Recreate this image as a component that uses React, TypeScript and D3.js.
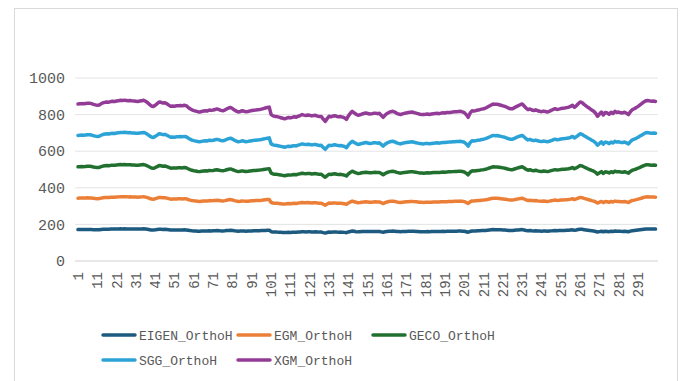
import React from "react";
import * as d3 from "d3";

// Orthometric heights (per point, metres); the five geoid
// models agree within the chart's resolution, each plotted as a stacked line.
const pointHeights: number[] = [
  171.6, 171.8, 172.0, 171.9, 172.2, 172.5, 172.4, 172.0, 171.2, 170.6,
  170.2, 170.5, 171.8, 172.9, 173.4, 173.8, 173.6, 174.2, 174.5, 174.3,
  174.8, 175.2, 175.6, 175.4, 175.8, 175.5, 175.2, 175.4, 175.0, 174.8,
  174.6, 174.4, 174.8, 175.2, 175.6, 174.6, 173.0, 171.2, 169.4, 168.8,
  170.2, 172.0, 173.8, 173.4, 172.6, 173.0, 171.8, 170.4, 169.0, 169.4,
  169.2, 169.6, 169.8, 170.0, 169.6, 170.2, 169.8, 168.0, 166.4, 165.2,
  164.4, 163.8, 163.2, 162.8, 163.4, 163.9, 164.2, 164.0, 165.0, 164.6,
  165.0, 165.6, 166.2, 165.4, 164.6, 164.2, 165.0, 166.2, 167.2, 167.8,
  166.6, 165.0, 163.8, 162.8, 163.4, 164.2, 163.6, 163.0, 163.4, 164.0,
  164.4, 164.8, 165.0, 165.3, 165.6, 166.0, 166.6, 167.2, 167.8, 168.2,
  160.0, 158.6, 158.0, 157.8, 157.2, 156.6, 156.0, 155.4, 156.2, 156.8,
  156.4, 157.0, 157.6, 157.2, 158.2, 159.0, 160.0, 159.4, 159.0, 159.6,
  159.2, 158.6, 159.0, 159.2, 158.4, 157.8, 158.0, 155.0, 152.6, 155.6,
  158.2, 157.6, 158.4, 158.8, 158.0, 157.6, 157.8, 157.2, 156.4, 154.8,
  158.6, 161.4, 163.6, 162.0, 160.4, 159.2, 159.8, 160.6, 161.2, 161.8,
  161.2, 160.6, 160.8, 161.4, 161.6, 161.0, 161.4, 159.2, 157.0, 159.4,
  161.2, 162.4, 163.2, 163.6, 162.8, 161.4, 160.6, 160.0, 160.8, 161.4,
  161.8, 162.2, 162.6, 162.8, 162.2, 161.6, 161.0, 160.4, 160.2, 160.0,
  160.4, 160.6, 160.2, 160.6, 161.0, 161.2, 161.4, 161.0, 161.6, 162.0,
  161.8, 162.2, 162.4, 162.4, 162.8, 163.0, 163.2, 163.4, 163.6, 163.0,
  162.2, 160.0, 157.0, 161.6, 164.2, 163.8, 164.4, 165.0, 165.4, 166.0,
  166.4, 167.2, 168.2, 169.4, 170.6, 171.6, 171.2, 171.4, 170.8, 170.2,
  169.6, 169.0, 168.0, 167.0, 166.4, 166.4, 167.6, 168.8, 169.8, 170.8,
  171.6, 169.4, 167.0, 165.4, 166.2, 165.0, 164.4, 165.2, 164.2, 163.6,
  163.2, 163.8, 163.4, 162.8, 163.6, 164.6, 165.6, 166.4, 165.6, 166.0,
  166.6, 167.0, 167.2, 167.6, 168.0, 169.0, 170.2, 168.0, 169.6, 171.8,
  173.8, 173.0, 171.2, 169.6, 168.0, 166.6, 165.0, 163.6, 161.4, 158.2,
  160.6, 162.8, 159.6, 162.4, 161.8, 160.4, 162.6, 161.2, 163.6, 162.4,
  162.8, 162.0, 161.8, 162.6, 161.4, 160.0, 163.2, 165.4, 166.4, 167.6,
  169.0, 170.6, 172.2, 173.8, 175.2, 175.4, 175.0, 174.6, 174.8, 174.4,
];

const categories: string[] = pointHeights.map((_, i) => String(i + 1));
const seriesNames = ["EIGEN_OrthoH", "EGM_OrthoH", "GECO_OrthoH", "SGG_OrthoH", "XGM_OrthoH"];
const seriesColors = ["#1d5a80", "#ec7f37", "#22702f", "#2ba3d6", "#933c97"];
const yTicks = [0, 200, 400, 600, 800, 1000];
const xTickLabels = categories.filter((_, i) => i % 10 === 0);

const legendPos = [
  { x: 103, y: 335 },
  { x: 238, y: 335 },
  { x: 373, y: 335 },
  { x: 103, y: 360 },
  { x: 238, y: 360 },
];

export default function App() {
  const W = 685, H = 381;
  const gridLeft = 75, gridRight = 658;
  const x = d3.scalePoint<string>().domain(categories).range([78, 655.5]);
  const y = d3.scaleLinear().domain([0, 1000]).range([261, 78]);

  const rows = categories.map((c, i) => {
    const r: any = { cat: c };
    seriesNames.forEach((n) => (r[n] = pointHeights[i]));
    return r;
  });
  const stacked = d3.stack<any>().keys(seriesNames)(rows);
  const line = d3
    .line<any>()
    .x((d) => x(d.data.cat)!)
    .y((d) => y(d[1]));

  const mono = "'Liberation Mono', 'DejaVu Sans Mono', monospace";

  return (
    <svg width={W} height={H} style={{ position: "absolute", left: 0, top: 0, background: "#fff" }}>
      <rect x={14.5} y={8.5} width={663} height={400} fill="#fff" stroke="#d9d9d9" strokeWidth={1} />
      {yTicks.map((t) => (
        <g key={t}>
          <line x1={gridLeft} x2={gridRight} y1={y(t)} y2={y(t)} stroke={t === 0 ? "#d0d0d0" : "#e4e4e4"} strokeWidth={1} />
          <text x={65} y={y(t)} dy="0.35em" textAnchor="end" fontFamily={mono} fontSize={15} fill="#595959">
            {t}
          </text>
        </g>
      ))}
      {xTickLabels.map((c) => (
        <text
          key={c}
          transform={`translate(${x(c)},272) rotate(-90)`}
          dy="0.35em"
          textAnchor="end"
          fontFamily={mono}
          fontSize={14}
          fill="#595959"
        >
          {c}
        </text>
      ))}
      {stacked.map((s, i) => (
        <path key={s.key} d={line(s)!} fill="none" stroke={seriesColors[i]} strokeWidth={3.5} strokeLinejoin="round" strokeLinecap="round" />
      ))}
      {seriesNames.map((n, i) => (
        <g key={n}>
          <line x1={legendPos[i].x} x2={legendPos[i].x + 32} y1={legendPos[i].y} y2={legendPos[i].y} stroke={seriesColors[i]} strokeWidth={3.5} strokeLinecap="round" />
          <text x={legendPos[i].x + 36} y={legendPos[i].y} dy="0.35em" fontFamily={mono} fontSize={13} fill="#595959">
            {n}
          </text>
        </g>
      ))}
    </svg>
  );
}
